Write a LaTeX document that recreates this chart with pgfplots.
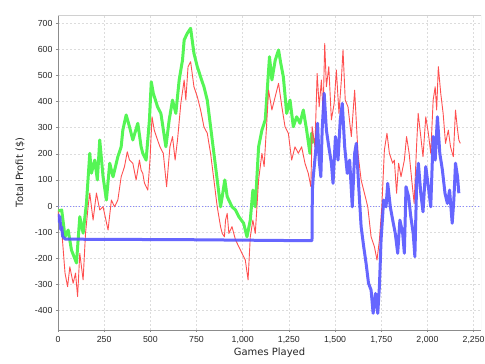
\documentclass[border=0pt]{standalone}
\usepackage{pgfplots}
\pgfplotsset{compat=1.18}
\usepackage{fontspec}
\setmainfont{DejaVu Sans}
\newfontfamily\tickfont{Liberation Sans}
\definecolor{sred}{HTML}{FF5050}
\definecolor{sblue}{HTML}{5555FF}
\definecolor{sgreen}{HTML}{55F555}
\definecolor{gridc}{HTML}{DCDCDC}
\definecolor{borderc}{HTML}{D0D0D0}
\definecolor{axisc}{HTML}{8C8C8C}
\begin{document}
\begin{tikzpicture}
\begin{axis}[
  scale only axis, width=423bp, height=315bp,
  xmin=0, xmax=2290, ymin=-475, ymax=732,
  xtick={0,250,...,2250}, ytick={-400,-300,...,700},
  axis x line*=bottom, axis y line*=left,
  axis line style={axisc, line width=0.8bp, -},
  tick align=outside, major tick length=2bp,
  tick style={axisc, line width=0.6bp},
  grid=major,
  major grid style={gridc, dash pattern=on 2bp off 2bp, line width=0.5bp},
  /pgf/number format/assume math mode=true,
  /pgf/number format/1000 sep={,},
  tick label style={font=\tickfont\fontsize{8.8}{10}\selectfont, black!85},
  xticklabel style={yshift=-1bp},
  label style={font=\fontsize{10}{12}\selectfont, black!85},
  xlabel={Games Played}, ylabel={Total Profit (\$)},
  xlabel style={at={([yshift=-23bp]axis description cs:0.5,0)}, anchor=center},
  ylabel style={at={([xshift=-38bp]axis description cs:0,0.5)}, anchor=center},
]
\coordinate (bl) at (rel axis cs:0,0);
\coordinate (tr) at (rel axis cs:1,1);
\draw[borderc, line width=0.8bp] (rel axis cs:0,1) -- (rel axis cs:1,1) -- (rel axis cs:1,0);
\addplot[sblue!70, dash pattern=on 1.5bp off 1.5bp, line width=0.5bp] coordinates {(0,0) (2290,0)};
\addplot[sgreen, line width=3bp, line join=round] coordinates {
(0,-20) (20,-15) (38,-118) (55,-92) (73,-169) (100,-218) (118,-41) (136,-104) (154,11) (172,202) (181,126) (199,176) (213,100) (226,253) (244,112) (262,23) (280,164) (298,112) (324,189) (342,227) (351,291) (369,349) (387,304) (405,253) (432,317) (450,227) (459,202) (477,176) (495,330) (505,476) (516,432) (539,380) (557,355) (584,227) (602,330) (620,406) (638,355) (656,483) (674,559) (683,636) (700,662) (718,681) (736,585) (754,534) (772,495) (790,457) (808,406) (826,304) (844,202) (862,100) (880,-3) (889,36) (903,100) (916,36) (942,-3) (961,-15) (979,-41) (1005,-66) (1023,-118) (1041,-54) (1055,61) (1068,-3) (1086,227) (1104,291) (1122,330) (1134,457) (1145,572) (1158,483) (1176,559) (1194,598) (1206,547) (1220,495) (1238,355) (1256,406) (1274,304) (1292,342) (1310,317) (1328,368) (1346,291) (1364,202) (1373,279) (1382,240)
};
\addplot[sred, line width=0.9bp, line join=round] coordinates {
(0,-20) (2,-41) (10,-60) (20,-92) (38,-257) (52,-309) (64,-233) (82,-296) (95,-257) (106,-347) (118,-181) (136,-283) (149,-104) (163,-3) (172,50) (190,-54) (208,50) (226,-15) (244,-3) (271,-92) (289,23) (306,-3) (324,23) (342,112) (360,151) (375,208) (387,176) (405,164) (423,100) (441,176) (450,138) (459,125) (468,88) (486,61) (498,176) (509,342) (521,291) (539,253) (552,227) (570,202) (588,74) (606,227) (620,266) (634,176) (647,253) (665,393) (683,483) (692,406) (704,534) (718,553) (736,457) (754,419) (772,368) (790,304) (808,279) (826,202) (844,100) (862,-3) (880,-79) (889,-105) (901,-118) (907,-54) (916,-28) (925,-105) (942,-79) (961,-130) (979,-156) (996,-181) (1014,-207) (1029,-283) (1041,-118) (1055,-54) (1068,-105) (1086,100) (1104,202) (1116,151) (1131,330) (1140,444) (1158,368) (1176,419) (1194,470) (1212,380) (1229,304) (1247,279) (1265,176) (1283,227) (1301,202) (1319,227) (1337,164) (1355,125) (1369,74) (1376,304) (1391,227) (1403,508) (1414,380) (1426,483) (1435,355) (1444,623) (1453,457) (1466,534) (1480,330) (1495,393) (1507,521) (1521,355) (1534,483) (1543,598) (1555,406) (1570,380) (1588,266) (1606,444) (1624,202) (1641,100) (1659,49) (1677,-3) (1695,-118) (1713,-156) (1727,-207) (1740,-130) (1753,-3) (1767,215) (1781,279) (1794,202) (1812,164) (1821,176) (1833,49) (1844,164) (1857,112) (1875,176) (1887,266) (1901,202) (1915,100) (1928,10) (1941,227) (1950,355) (1964,266) (1976,189) (1991,342) (2005,279) (2018,202) (2031,406) (2042,457) (2050,368) (2059,534) (2072,432) (2085,355) (2098,240) (2113,291) (2125,227) (2140,189) (2152,368) (2161,304) (2170,253) (2178,240)
};
\addplot[sblue, opacity=0.9, line width=3bp, line join=round] coordinates {
(0,-30) (5,-60) (10,-40) (15,-90) (20,-80) (25,-115) (32,-122) (40,-127) (700,-129) (1375,-133) (1377,60) (1382,112) (1394,202) (1405,317) (1414,176) (1423,112) (1430,291) (1441,432) (1453,291) (1466,227) (1480,164) (1489,87) (1502,266) (1516,176) (1528,330) (1539,393) (1552,227) (1566,125) (1579,176) (1593,-3) (1606,202) (1615,240) (1628,74) (1641,-79) (1655,-156) (1668,-220) (1681,-296) (1695,-322) (1706,-411) (1719,-335) (1731,-411) (1740,-309) (1749,-130) (1763,23) (1776,-3) (1785,87) (1799,-3) (1812,-54) (1826,-105) (1839,-181) (1851,-54) (1866,-105) (1875,-181) (1884,74) (1898,36) (1910,-41) (1923,-105) (1932,-194) (1942,100) (1951,164) (1964,49) (1976,-22) (1991,151) (2005,74) (2018,-3) (2031,266) (2042,176) (2054,342) (2067,202) (2081,138) (2095,49) (2108,10) (2120,61) (2134,-66) (2143,23) (2152,164) (2163,112) (2170,49)
};
\end{axis}
\pgfresetboundingbox
\path ([xshift=-58bp,yshift=-34bp]bl) rectangle ([xshift=4bp,yshift=15bp]tr);
\end{tikzpicture}
\end{document}
